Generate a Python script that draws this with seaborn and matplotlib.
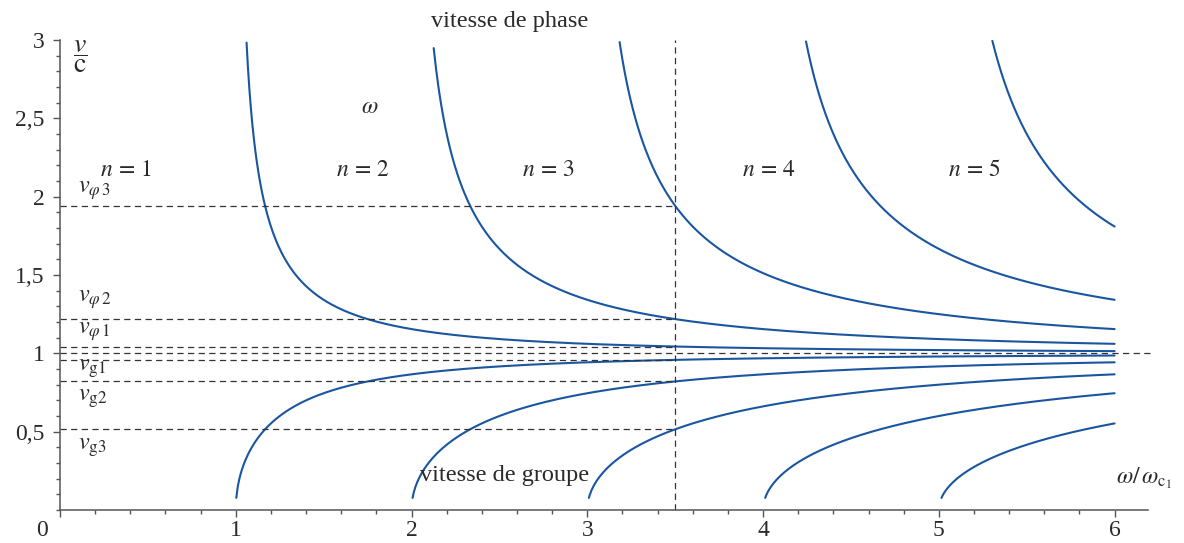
import numpy as np
import pandas as pd
import matplotlib
matplotlib.use("Agg")
import matplotlib.pyplot as plt
from matplotlib.ticker import MultipleLocator
import seaborn as sns

# Guided modes: index n and cutoff frequency (in units of omega_c1)
modes = [1, 2, 3, 4, 5]
cutoffs = [1.0, 2.0, 3.0, 4.0, 5.0]
omega_max = 6.0
omega_ref = 3.5          # working frequency marked by the vertical dashed line
v_top = 3.0              # upper limit of the v/c axis

y_ticks = [0.5, 1.0, 1.5, 2.0, 2.5, 3.0]
y_tick_labels = ["0,5", "1", "1,5", "2", "2,5", "3"]
x_ticks = [1, 2, 3, 4, 5, 6]
x_tick_labels = ["1", "2", "3", "4", "5", "6"]

mode_label_x = [0.375, 1.72, 2.78, 4.03, 5.2]
mode_label_y = 2.17

curve_color = "#1a56a0"
text_color = "#2a2a2a"
axis_color = "#555555"


def phase_velocity(w, wc):
    return 1.0 / np.sqrt(1.0 - (wc / w) ** 2)


def group_velocity(w, wc):
    return np.sqrt(1.0 - (wc / w) ** 2)


rows = []
for n, wc in zip(modes, cutoffs):
    w = np.linspace(wc * 1.003, omega_max, 600)
    vp = phase_velocity(w, wc)
    keep = vp <= v_top
    rows.append(pd.DataFrame({"w": w[keep], "v": vp[keep], "mode": n, "kind": "phase"}))
    rows.append(pd.DataFrame({"w": w, "v": group_velocity(w, wc), "mode": n, "kind": "group"}))
df = pd.concat(rows, ignore_index=True)

sns.set_style("ticks")
plt.rcParams["font.family"] = ["Liberation Serif", "DejaVu Serif"]
plt.rcParams["mathtext.fontset"] = "stix"

fig = plt.figure(figsize=(11.84, 5.43), dpi=100)
ax = fig.add_axes([60 / 1184, 33 / 543, 1088 / 1184, 470 / 543])

for (n, kind), sub in df.groupby(["mode", "kind"]):
    sns.lineplot(data=sub, x="w", y="v", ax=ax, color=curve_color,
                 linewidth=1.5, estimator=None, sort=False, legend=False)

# Reference lines at omega_ref
dash = dict(color="#333333", linewidth=0.9, linestyle=(0, (5, 3.5)))
for wc in cutoffs[:3]:
    ax.plot([0, omega_ref], [phase_velocity(omega_ref, wc)] * 2, **dash)
    ax.plot([0, omega_ref], [group_velocity(omega_ref, wc)] * 2, **dash)
ax.plot([0, 6.2], [1, 1], clip_on=False, **dash)
ax.plot([omega_ref, omega_ref], [0, v_top], **dash)

ax.set_xlim(0, 6.19)
ax.set_ylim(0, v_top)
ax.set_xlabel("")
ax.set_ylabel("")

ax.set_xticks([0] + x_ticks)
ax.set_xticklabels([""] + x_tick_labels)
ax.set_yticks(y_ticks)
ax.set_yticklabels(y_tick_labels)
ax.xaxis.set_minor_locator(MultipleLocator(0.2))
ax.yaxis.set_minor_locator(MultipleLocator(0.1))
ax.tick_params(which="major", length=5, width=1, color=axis_color,
               labelsize=17, labelcolor=text_color, pad=6, direction="out")
ax.tick_params(axis="x", which="major", pad=2)
ax.tick_params(which="minor", length=3, width=1, color=axis_color, direction="out")
sns.despine(ax=ax)
for side in ("left", "bottom"):
    ax.spines[side].set_color(axis_color)
    ax.spines[side].set_linewidth(1.1)

ax.text(-0.1, -0.13, "0", fontsize=17, color=text_color, ha="center", va="center")

# Annotations
ax.text(2.56, 3.12, "vitesse de phase", fontsize=17.5, color=text_color, ha="center", va="center")
ax.text(2.53, 0.22, "vitesse de groupe", fontsize=17.5, color=text_color, ha="center", va="center")
ax.text(1.76, 2.57, r"$\omega$", fontsize=17, color=text_color, ha="center", va="center")
for n, xl in zip(modes, mode_label_x):
    ax.text(xl, mode_label_y, rf"$n\,=\,{n}$", fontsize=17, color=text_color,
            ha="center", va="center")

side_labels = [
    (2.04, r"$v_{\varphi\,3}$"), (1.34, r"$v_{\varphi\,2}$"), (1.14, r"$v_{\varphi\,1}$"),
    (0.9, r"$v_{\mathrm{g}1}$"), (0.71, r"$v_{\mathrm{g}2}$"), (0.40, r"$v_{\mathrm{g}3}$"),
]
for yl, txt in side_labels:
    ax.text(0.1, yl, txt, fontsize=17.5, color=text_color, ha="left", va="center")

ax.text(0.075, 2.89, r"$\genfrac{}{}{0.5}{0}{v}{\mathrm{c}}$", fontsize=20,
        color=text_color, ha="left", va="center")
ax.text(6.01, 0.2, r"$\omega/\,\omega_{\mathrm{c}_1}$", fontsize=17, color=text_color,
        ha="left", va="center", clip_on=False)

fig.savefig("out.png", dpi=100)
